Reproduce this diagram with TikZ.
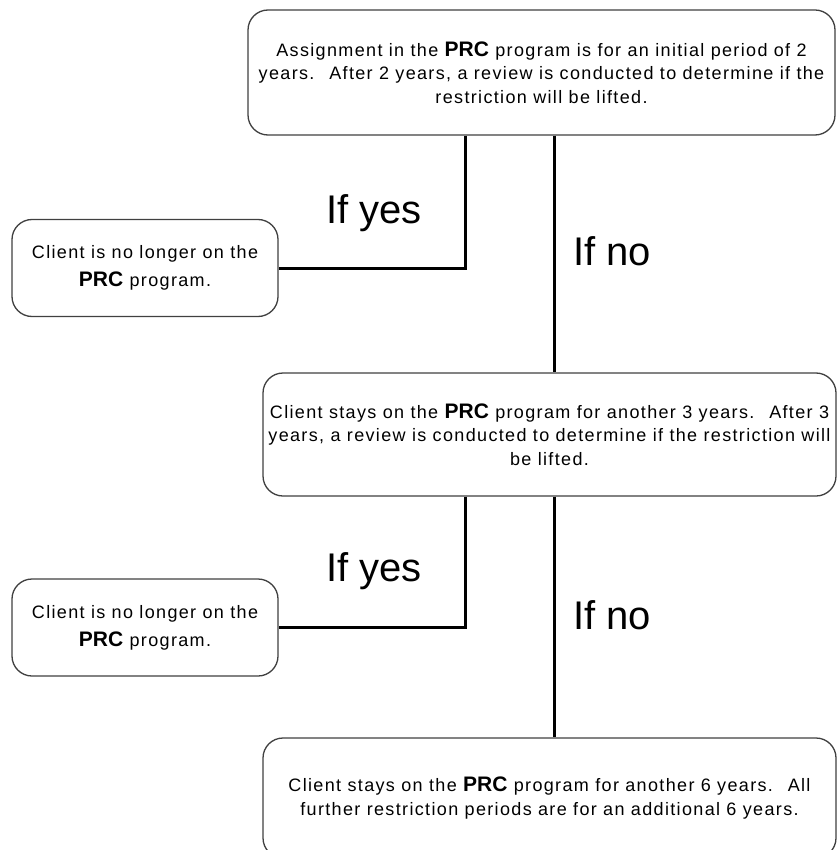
\documentclass[tikz,border=0pt]{standalone}
\usepackage{fontspec}
\setmainfont{Liberation Sans}
\newfontfamily\boxfont{Liberation Sans}[LetterSpace=7.5]
\newfontfamily\prcfont{Liberation Sans}
\usetikzlibrary{positioning}
\newcommand\prc{{\prcfont\fontsize{21}{24}\selectfont\bfseries PRC}}

\begin{document}
\begin{tikzpicture}[x=1pt, y=-1pt,% styles used in image code
  box/.style = {draw=black!75, line width=1.3pt, rounded corners=20pt,
                fill=white, align=center, inner sep=0pt,
                font=\boxfont\fontsize{18}{23.5}\selectfont},
  outbox/.style = {box, minimum width=266pt, minimum height=97pt,
                   font=\boxfont\fontsize{18}{28}\selectfont},
  link/.style = {draw, line width=3pt},
  lbl/.style  = {font=\fontsize{40}{42}\selectfont, inner sep=0pt}
                    ]
  \useasboundingbox (0,0) rectangle (837,850);
  \clip (0,0) rectangle (837,850);

  % boxes
  \node[box, minimum width=587pt, minimum height=125pt] (top) at (541.5,72.5)
    {Assignment in the \prc{} program is for an initial period of 2\\
     years.~ After 2 years, a review is conducted to determine if the\\
     restriction will be lifted.};
  \node[outbox] (out1) at (145,268)
    {Client is no longer on the\\ \prc{} program.};
  \node[box, minimum width=573pt, minimum height=123pt] (mid) at (549.5,434.5)
    {Client stays on the \prc{} program for another 3 years.~ After 3\\
     years, a review is conducted to determine if the restriction will\\
     be lifted.};
  \node[outbox] (out2) at (145,627.5)
    {Client is no longer on the\\ \prc{} program.};
  \node[box, minimum width=573pt, minimum height=120pt] (bot) at (549.5,798)
    {Client stays on the \prc{} program for another 6 years.~ All\\
     further restriction periods are for an additional 6 years.};

  % branch columns
  \coordinate (yes) at (465,0);
  \coordinate (no)  at (554,0);

  % connectors
  \draw[link] (top.south -| yes) |- (out1.east);
  \draw[link] (top.south -| no) -- (mid.north -| no);
  \draw[link] (mid.south -| yes) |- (out2.east);
  \draw[link] (mid.south -| no) -- (bot.north -| no);

  % labels
  \node[lbl] (y1) at (374,213) {If yes};
  \node[lbl] (n1) at (612,251) {If no};
  \node[lbl] (y2) at (374,571) {If yes};
  \node[lbl] (n2) at (612,615) {If no};
\end{tikzpicture}
\end{document}
